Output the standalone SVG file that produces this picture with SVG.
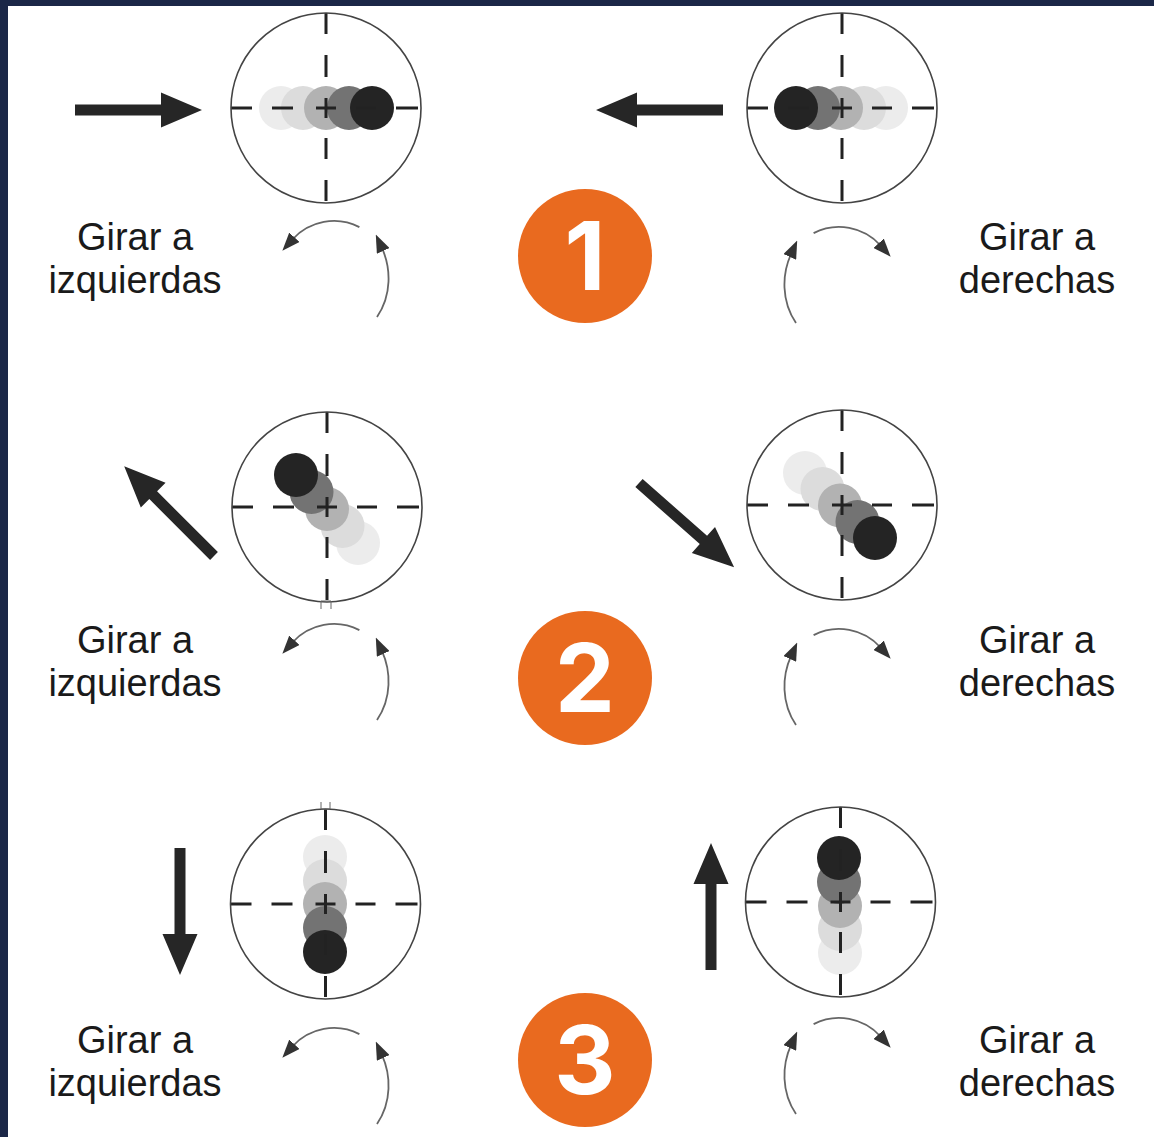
<svg xmlns="http://www.w3.org/2000/svg" xmlns:xlink="http://www.w3.org/1999/xlink" width="1154" height="1137" viewBox="0 0 1154 1137">
<style>
.ring{fill:none;stroke:#444;stroke-width:1.6}
.xh{fill:none;stroke:#222;stroke-width:3}
.b1{fill:#ececec}.b2{fill:#dcdcdc}.b3{fill:#b2b2b2}.b4{fill:#737373}.b5{fill:#242424}
.big{fill:#262626}
.rot{fill:none;stroke:#666;stroke-width:1.8;marker-end:url(#ah)}
.lbl{font-family:"Liberation Sans",Arial,sans-serif;font-size:38px;fill:#1a1a1a;text-anchor:middle}
.badge{fill:#E96A1F}
.num{font-family:Inter,"Noto Sans",sans-serif;font-weight:700;font-size:95px;fill:#fff;text-anchor:middle}
.tick{fill:none;stroke:#666;stroke-width:1}
</style>
<defs>
<marker id="ah" markerUnits="userSpaceOnUse" markerWidth="18" markerHeight="14" refX="3" refY="7" orient="auto">
<path d="M0,0L18,7L0,14Z" fill="#333"/>
</marker>
<path id="bigArrow" class="big" d="M0,-5.5H86V-17.5L127,0L86,17.5V5.5H0Z"/>
<g id="scope">
<circle class="ring" r="95"/>
</g>
<path id="xhair" class="xh" d="M0,-95V-74M0,-53V-31M0,-10V10M0,30V51M0,72V93M-95,0H-74M-54,0H-33M-10,0H10M30,0H50M70,0H92"/>
<g id="rotL">
<path class="rot" d="M359.4,227.1A56,56 0 0 0 292.4,239.5"/>
<path class="rot" d="M377,317C392,295 391,268 382,248.2"/>
</g>
</defs>
<rect width="1154" height="1137" fill="#fff"/>
<rect x="0" y="0" width="1154" height="6" fill="#1b2747"/>
<rect x="0" y="0" width="8" height="1137" fill="#1b2747"/>

<g id="panel1-left">
<use xlink:href="#bigArrow" transform="translate(75,110)"/>
<circle class="b1" cx="281" cy="108" r="22"/><circle class="b2" cx="303" cy="108" r="22"/><circle class="b3" cx="326" cy="108" r="22"/><circle class="b4" cx="349" cy="108" r="22"/><circle class="b5" cx="372" cy="108" r="22"/>
<use xlink:href="#xhair" transform="translate(326,108)"/>
<use xlink:href="#scope" transform="translate(326,108)"/>
<use xlink:href="#rotL"/>
<text class="lbl" x="135" y="250">Girar a</text>
<text class="lbl" x="135" y="293">izquierdas</text>
</g>

<g id="panel1-right">
<use xlink:href="#bigArrow" transform="translate(723,110) rotate(180)"/>
<circle class="b1" cx="886" cy="108" r="22"/><circle class="b2" cx="864" cy="108" r="22"/><circle class="b3" cx="841" cy="108" r="22"/><circle class="b4" cx="818" cy="108" r="22"/><circle class="b5" cx="796" cy="108" r="22"/>
<use xlink:href="#xhair" transform="translate(842,108)"/>
<use xlink:href="#scope" transform="translate(842,108)"/>
<use xlink:href="#rotL" transform="translate(1173,6) scale(-1,1)"/>
<text class="lbl" x="1037" y="250">Girar a</text>
<text class="lbl" x="1037" y="293">derechas</text>
</g>

<g id="panel2-left">
<use xlink:href="#bigArrow" transform="translate(214,556) rotate(-135)"/>
<circle class="b1" cx="358" cy="543" r="22"/><circle class="b2" cx="342.5" cy="526" r="22"/><circle class="b3" cx="327" cy="509" r="22"/><circle class="b4" cx="311.5" cy="492" r="22"/><circle class="b5" cx="296" cy="475" r="22"/>
<use xlink:href="#xhair" transform="translate(327,507)"/>
<use xlink:href="#scope" transform="translate(327,507)"/>
<path class="tick" d="M321,609V601H331V609"/>
<use xlink:href="#rotL" transform="translate(0,403)"/>
<text class="lbl" x="135" y="653">Girar a</text>
<text class="lbl" x="135" y="696">izquierdas</text>
</g>

<g id="panel2-right">
<use xlink:href="#bigArrow" transform="translate(639,483) rotate(41.5)"/>
<circle class="b1" cx="805" cy="473" r="22"/><circle class="b2" cx="822.5" cy="489" r="22"/><circle class="b3" cx="840" cy="505.5" r="22"/><circle class="b4" cx="857.5" cy="522" r="22"/><circle class="b5" cx="875" cy="538" r="22"/>
<use xlink:href="#xhair" transform="translate(842,505)"/>
<use xlink:href="#scope" transform="translate(842,505)"/>
<use xlink:href="#rotL" transform="translate(1173,408) scale(-1,1)"/>
<text class="lbl" x="1037" y="653">Girar a</text>
<text class="lbl" x="1037" y="696">derechas</text>
</g>

<g id="panel3-left">
<use xlink:href="#bigArrow" transform="translate(180,848) rotate(90)"/>
<circle class="b1" cx="325" cy="857" r="22"/><circle class="b2" cx="325" cy="881" r="22"/><circle class="b3" cx="325" cy="904" r="22"/><circle class="b4" cx="325" cy="928" r="22"/><circle class="b5" cx="325" cy="952" r="22"/>
<use xlink:href="#xhair" transform="translate(325.5,904)"/>
<use xlink:href="#scope" transform="translate(325.5,904)"/>
<path class="tick" d="M321,802V809H330V802"/>
<use xlink:href="#rotL" transform="translate(0,807)"/>
<text class="lbl" x="135" y="1053">Girar a</text>
<text class="lbl" x="135" y="1096">izquierdas</text>
</g>

<g id="panel3-right">
<use xlink:href="#bigArrow" transform="translate(711,970) rotate(-90)"/>
<circle class="b1" cx="840" cy="953" r="22"/><circle class="b2" cx="840" cy="929" r="22"/><circle class="b3" cx="840" cy="906" r="22"/><circle class="b4" cx="839" cy="882" r="22"/><circle class="b5" cx="839" cy="858" r="22"/>
<use xlink:href="#xhair" transform="translate(840.5,902)"/>
<use xlink:href="#scope" transform="translate(840.5,902)"/>
<use xlink:href="#rotL" transform="translate(1173,797) scale(-1,1)"/>
<text class="lbl" x="1037" y="1053">Girar a</text>
<text class="lbl" x="1037" y="1096">derechas</text>
</g>

<g id="badge1"><circle class="badge" cx="585" cy="256" r="67"/><text class="num" x="585" y="290">1</text></g>
<g id="badge2"><circle class="badge" cx="585" cy="678" r="67"/><text class="num" x="585" y="712">2</text></g>
<g id="badge3"><circle class="badge" cx="585" cy="1060" r="67"/><text class="num" x="585" y="1094">3</text></g>
</svg>
